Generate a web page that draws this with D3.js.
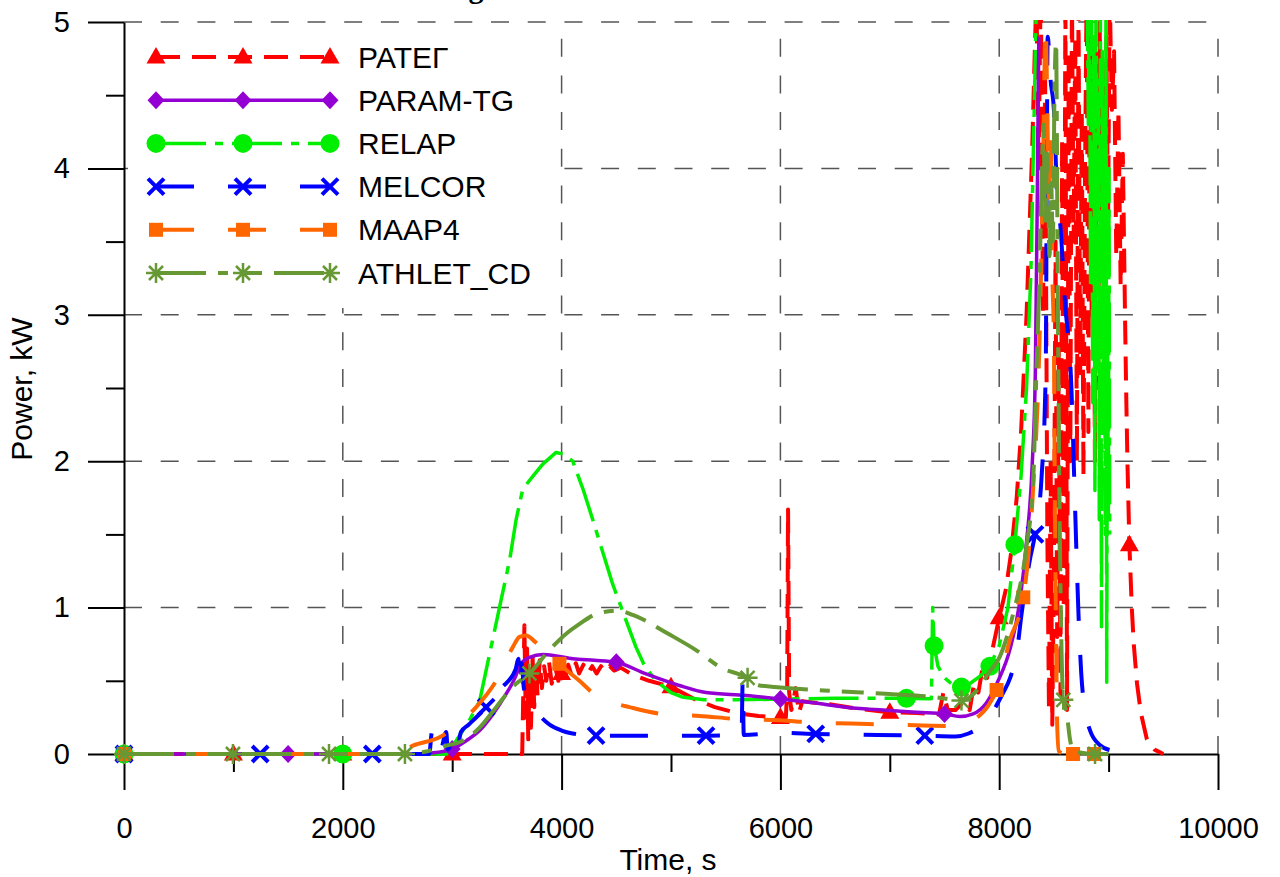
<!DOCTYPE html>
<html>
<head>
  <meta charset="utf-8">
  <title>Power, kW</title>
  <script src="https://cdnjs.cloudflare.com/ajax/libs/d3/7.8.5/d3.min.js"></script>
<style>
body {
  margin: 0;
  background: #fff;
}
svg {
  display: block;
  font-family: "Liberation Sans", Arial, sans-serif;
}
.legend text {
  font-size: 30px;
}
</style>
</head>
<body>

<svg width="1280" height="877"></svg>

<script>

// tick values
var xTicks = [0, 2000, 4000, 6000, 8000, 10000];
var xMinor = [1000, 3000, 5000, 7000, 9000];
var yTicks = [0, 1, 2, 3, 4, 5];
var yMinor = [0.5, 1.5, 2.5, 3.5, 4.5];
var xGrid = [2000, 4000, 6000, 8000, 10000];
var yGrid = [1, 2, 3, 4, 5];

var names = ["РАТЕГ", "PARAM-TG", "RELAP", "MELCOR", "MAAP4", "ATHLET_CD"];

// [time s, power kW]
var rateg = [[0,0],[3640,0],[3660,0.88],[3672,0.25],[3684,0.72],[3695,0.1],[3708,0.58],[3720,0.18],[3735,0.66],[3750,0.32],
  [3765,0.62],[3780,0.4],[3800,0.64],[3820,0.45],[3840,0.6],[3860,0.5],[3885,0.63],[3910,0.48],[3940,0.6],[3970,0.5],
  [4000,0.57],[4030,0.52],[4060,0.61],[4090,0.54],[4130,0.62],[4160,0.55],[4200,0.61],[4240,0.55],[4280,0.6],[4320,0.55],
  [4360,0.6],[4400,0.56],[4440,0.6],[4480,0.57],[4540,0.59],[4650,0.54],[4800,0.5],[5000,0.46],[5200,0.38],[5400,0.32],
  [5600,0.28],[5800,0.26],[6000,0.25],[6050,0.25],[6062,0.45],[6070,1.67],[6080,0.42],[6100,0.3],[6140,0.45],[6170,0.28],
  [6200,0.36],[6450,0.34],[6700,0.31],[7000,0.285],[7250,0.28],[7450,0.27],[7490,0.42],[7530,0.3],[7600,0.3],[7680,0.36],
  [7730,0.3],[7770,0.48],[7810,0.42],[7850,0.6],[7890,0.52],[7940,0.72],[8000,0.93],[8060,1.12],[8110,1.38],[8160,1.75],
  [8200,2.2],[8250,3.0],[8300,4.1],[8340,5.2],[8360,4.0],[8380,5.3],[8400,3.0],[8420,4.6],[8440,1.5],[8455,0.3],
  [8470,2.0],[8485,0.2],[8500,1.2],[8515,3.5],[8530,0.8],[8545,2.8],[8560,0.4],[8575,4.2],[8590,1.0],[8605,5.3],
  [8620,0.3],[8635,4.8],[8650,2.0],[8665,5.2],[8680,3.5],[8695,4.9],[8710,2.0],[8725,5.1],[8740,2.6],[8755,4.4],
  [8770,1.9],[8785,4.0],[8800,5.3],[8815,2.2],[8830,5.2],[8845,3.0],[8860,4.6],[8875,2.0],[8890,4.8],[8905,2.5],
  [8920,5.0],[8935,3.2],[8950,4.6],[8965,2.8],[8980,4.9],[8995,3.6],[9010,5.2],[9030,4.4],[9050,4.8],[9070,3.4],
  [9090,4.4],[9110,3.2],[9130,4.1],[9150,3.0],[9160,2.5],[9172,2.0],[9190,1.43],[9212,1.0],[9230,0.75],[9260,0.48],
  [9295,0.28],[9350,0.1],[9420,0.03],[9500,0]];
var ratezMarks = [[0,0],[1000,0],[2000,0],[3000,0],[4000,0.55],[5000,0.46],[6000,0.25],[7000,0.285],[8000,0.93],[9190,1.43]];

var paramtg = [[0,0],[2700,0],[2850,0.01],[3000,0.034],[3128,0.09],[3250,0.16],[3371,0.27],[3493,0.41],[3580,0.53],
  [3615,0.6],[3660,0.64],[3706,0.66],[3829,0.68],[3950,0.67],[4103,0.65],[4300,0.64],[4498,0.627],[4772,0.547],[5076,0.468],
  [5320,0.42],[5685,0.4],[6000,0.376],[6300,0.35],[6600,0.32],[7000,0.297],[7250,0.285],[7503,0.274],[7640,0.256],
  [7762,0.274],[7884,0.35],[7990,0.5],[8100,0.72],[8190,1.05],[8250,1.45],[8300,1.95],[8330,2.6],[8348,3.8],[8362,4.9]];
var paramMarks = [[0,0],[1500,0],[3000,0.034],[4500,0.627],[6000,0.376],[7500,0.274]];

var relap = [[0,0],[2950,0],[3036,0.09],[3150,0.22],[3250,0.36],[3341,0.68],[3432,1.0],[3524,1.32],[3584,1.6],[3645,1.81],
  [3740,1.9],[3828,1.98],[3950,2.06],[4011,2.05],[4102,2.0],[4200,1.8],[4285,1.6],[4380,1.37],[4467,1.16],[4580,0.93],
  [4680,0.73],[4760,0.6],[4863,0.5],[5000,0.42],[5100,0.39],[5300,0.37],[5600,0.37],[6000,0.375],[6500,0.38],[7000,0.38],
  [7380,0.377],[7392,1.0],[7405,0.74],[7440,0.6],[7500,0.52],[7580,0.47],[7655,0.457],[7730,0.48],[7823,0.53],[7915,0.6],
  [8000,0.74],[8080,1.0],[8143,1.43],[8200,1.9],[8250,2.5],[8290,3.3],[8320,4.4],[8345,5.3],[8600,5.8],[8800,5.6],
  [8815,4.3],[8825,5.4],[8835,3.2],[8845,5.2],[8855,2.4],[8865,4.9],[8875,1.8],[8885,5.3],[8895,2.6],[8905,4.6],
  [8915,1.6],[8925,5.1],[8935,0.87],[8942,4.8],[8952,2.2],[8960,4.4],[8970,1.5],[8976,5.2],[8983,0.49],[8990,3.0],
  [8998,1.6],[9004,4.0],[9010,1.5]];
var relapMarks = [[0,0],[2000,0],[7152,0.38],[7405,0.74],[7655,0.457],[7915,0.6],[8143,1.43]];

var melcor = [[0,0],[2790,0],[2815,0.15],[2830,0.01],[2900,0.04],[2945,0.15],[2960,0.03],[3000,0.1],[3030,0.16],[3050,0.06],
  [3080,0.15],[3150,0.2],[3310,0.32],[3450,0.45],[3580,0.58],[3605,0.65],[3620,0.46],[3635,0.62],[3655,0.45],[3700,0.36],
  [3790,0.27],[3890,0.2],[4000,0.16],[4100,0.14],[4315,0.125],[5320,0.125],[5645,0.13],[5655,0.5],[5665,0.13],[6000,0.145],
  [6323,0.137],[7320,0.125],[7600,0.12],[7720,0.14],[7850,0.2],[7950,0.3],[8030,0.41],[8100,0.52],[8160,0.69],[8205,0.96],
  [8281,1.33],[8327,1.5],[8388,1.9],[8425,2.6],[8435,4.0],[8443,4.9],[8470,4.6],[8500,4.4],[8530,3.8],[8560,3.6],
  [8600,3.1],[8660,2.5],[8685,1.9],[8705,1.4],[8725,0.95],[8750,0.55],[8790,0.28],[8831,0.16],[8922,0.06],[9008,0.027]];
var melcorMarks = [[0,0],[1245,0],[2270,0],[3310,0.32],[4315,0.125],[5320,0.125],[6323,0.137],[7320,0.125],[8327,1.5]];

var maap4 = [[0,0],[2500,0],[2641,0.057],[2884,0.114],[3050,0.2],[3219,0.32],[3402,0.5],[3554,0.73],[3615,0.8],[3676,0.81],
  [3767,0.76],[3858,0.71],[3980,0.616],[4163,0.5],[4315,0.4],[4470,0.35],[4620,0.32],[4954,0.27],[5259,0.26],[5594,0.24],
  [5990,0.23],[6300,0.215],[6800,0.205],[7300,0.195],[7610,0.19],[7800,0.25],[7900,0.33],[7976,0.437],[8098,0.78],
  [8220,1.07],[8305,1.75],[8373,2.96],[8400,4.0],[8425,4.98],[8440,4.4],[8455,3.8],[8470,4.2],[8485,3.3],[8500,2.8],
  [8510,1.6],[8520,0.8],[8530,0.2],[8545,0.02],[8600,0],[8880,0]];
var maap4Marks = [[0,0],[3980,0.616],[7976,0.437],[8220,1.07],[8675,0],[8866,0]];

var athlet = [[0,0],[2568,0],[2750,0.015],[2945,0.057],[3067,0.08],[3250,0.18],[3402,0.32],[3554,0.46],[3706,0.55],
  [3889,0.71],[4056,0.83],[4148,0.88],[4330,0.96],[4513,0.98],[4650,0.95],[4741,0.92],[4954,0.83],[5228,0.71],[5457,0.59],
  [5700,0.52],[5800,0.47],[6000,0.455],[6500,0.43],[7000,0.41],[7400,0.39],[7655,0.365],[7750,0.4],[7823,0.46],[7900,0.55],
  [8006,0.665],[8128,0.96],[8250,1.42],[8311,1.87],[8340,2.6],[8370,3.3],[8390,4.0],[8405,4.3],[8420,3.6],[8440,4.1],
  [8460,3.4],[8475,3.9],[8490,3.5],[8505,4.5],[8520,4.86],[8535,3.2],[8550,1.8],[8565,0.9],[8586,0.37],[8617,0.28],
  [8647,0.1],[8678,0.02],[8876,0],[9000,0]];
var athletMarks = [[0,0],[996,0],[1874,0],[2568,0],[3706,0.55],[5700,0.52],[7655,0.365],[8586,0.37],[8876,0]];


var svg = d3.select("svg");

var x = d3.scaleLinear().domain([0, 10000]).range([124, 1218]);
var y = d3.scaleLinear().domain([0, 5]).range([754, 22]);

var series = [
  {name: names[0], data: rateg, marks: ratezMarks, color: "#ff0000", dash: "24,12", width: 4, shape: "tri", smooth: false},
  {name: names[2], data: relap, marks: relapMarks, color: "#00ee00", dash: "50,9,8,9", width: 3.5, shape: "circle", smooth: false},
  {name: names[1], data: paramtg, marks: paramMarks, color: "#9400d3", dash: null, width: 3.5, shape: "diamond", smooth: true},
  {name: names[3], data: melcor, marks: melcorMarks, color: "#0000ff", dash: "38,34", width: 4, shape: "x", smooth: true},
  {name: names[4], data: maap4, marks: maap4Marks, color: "#ff6600", dash: "38,34", width: 4, shape: "square", smooth: true},
  {name: names[5], data: athlet, marks: athletMarks, color: "#669933", dash: "50,12,10,12,22,12", width: 4, shape: "star", smooth: true}
];

var shapes = {
  tri: "M0,-10L9.5,6.5L-9.5,6.5Z",
  diamond: "M0,-9L8.5,0L0,9L-8.5,0Z",
  square: "M-7,-7H7V7H-7Z",
  x: "M-8,-8L8,8M-8,8L8,-8",
  star: "M0,-10V10M-10,0H10M-7,-7L7,7M-7,7L7,-7"
};

function marker(g, s, cx, cy) {
  if (s.shape == "circle") {
    g.append("circle").attr("cx", cx).attr("cy", cy).attr("r", 9.5).attr("fill", s.color);
  } else if (s.shape == "x" || s.shape == "star") {
    g.append("path")
      .attr("transform", "translate(" + cx + "," + cy + ")")
      .attr("d", shapes[s.shape])
      .attr("fill", "none")
      .attr("stroke", s.color)
      .attr("stroke-width", s.shape == "x" ? 4 : 2.5);
  } else {
    g.append("path")
      .attr("transform", "translate(" + cx + "," + cy + ")")
      .attr("d", shapes[s.shape])
      .attr("fill", s.color);
  }
}

svg.append("defs").append("clipPath").attr("id", "plot")
  .append("rect").attr("x", 100).attr("y", 20).attr("width", 1140).attr("height", 750);

// grid
var grid = svg.append("g")
  .attr("stroke", "#555")
  .attr("stroke-width", 1.5)
  .attr("stroke-dasharray", "18,18.7");

grid.selectAll(".vg").data(xGrid).enter().append("line")
  .attr("x1", function(d) { return x(d); })
  .attr("x2", function(d) { return x(d); })
  .attr("y1", y(0))
  .attr("y2", y(5));

grid.selectAll(".hg").data(yGrid).enter().append("line")
  .attr("x1", x(0))
  .attr("x2", x(10000))
  .attr("y1", function(d) { return y(d); })
  .attr("y2", function(d) { return y(d); });

// legend background hides the grid
svg.append("rect")
  .attr("x", 128).attr("y", 32).attr("width", 430).attr("height", 276)
  .attr("fill", "#fff");

// axes
var xAxis = svg.append("g").attr("transform", "translate(0," + y(0) + ")")
  .call(d3.axisBottom(x).tickValues(xTicks).tickSizeInner(36).tickSizeOuter(0).tickPadding(27).tickFormat(d3.format("d")));
var xMin = svg.append("g").attr("transform", "translate(0," + y(0) + ")")
  .call(d3.axisBottom(x).tickValues(xMinor).tickSizeInner(18).tickSizeOuter(0).tickFormat(""));
var yAxis = svg.append("g").attr("transform", "translate(" + x(0) + ",0)")
  .call(d3.axisLeft(y).tickValues(yTicks).tickSizeInner(36).tickSizeOuter(0).tickPadding(18).tickFormat(d3.format("d")));
var yMin = svg.append("g").attr("transform", "translate(" + x(0) + ",0)")
  .call(d3.axisLeft(y).tickValues(yMinor).tickSizeInner(18).tickSizeOuter(0).tickFormat(""));

xMin.select(".domain").remove();
yMin.select(".domain").remove();

[xAxis, xMin, yAxis, yMin].forEach(function(a) {
  a.attr("font-size", 29).attr("font-family", "Liberation Sans, Arial, sans-serif");
  a.selectAll("line, path").attr("stroke", "#000").attr("stroke-width", 2);
  a.selectAll("text").attr("fill", "#000");
});

svg.append("text")
  .attr("x", 668).attr("y", 870)
  .attr("text-anchor", "middle")
  .attr("font-size", 30)
  .text("Time, s");

svg.append("text")
  .attr("transform", "translate(32,389) rotate(-90)")
  .attr("text-anchor", "middle")
  .attr("font-size", 30)
  .text("Power, kW");

// title is cut off at the top edge, only the tail of the g shows
svg.append("text")
  .attr("x", 476).attr("y", -2)
  .attr("text-anchor", "middle")
  .attr("font-family", "Liberation Serif, serif")
  .attr("font-weight", "bold")
  .attr("font-size", 30)
  .text("g");

// curves
var plot = svg.append("g").attr("clip-path", "url(#plot)");

series.forEach(function(s) {
  var line = d3.line()
    .x(function(d) { return x(d[0]); })
    .y(function(d) { return y(d[1]); })
    .curve(s.smooth ? d3.curveMonotoneX : d3.curveLinear);

  plot.append("path")
    .datum(s.data)
    .attr("d", line)
    .attr("fill", "none")
    .attr("stroke", s.color)
    .attr("stroke-width", s.width)
    .attr("stroke-dasharray", s.dash)
    .attr("stroke-linejoin", "round");

  var mg = plot.append("g");
  s.marks.forEach(function(m) { marker(mg, s, x(m[0]), y(m[1])); });
});

// legend
var legend = svg.append("g").attr("class", "legend");

names.forEach(function(nm, i) {
  var s = series.filter(function(d) { return d.name == nm; })[0];
  var ly = 57 + i * 43.2;
  var row = legend.append("g");
  row.append("line")
    .attr("x1", 156).attr("x2", 330)
    .attr("y1", ly).attr("y2", ly)
    .attr("stroke", s.color)
    .attr("stroke-width", s.width)
    .attr("stroke-dasharray", s.dash);
  [156, 243, 330].forEach(function(mx) { marker(row, s, mx, ly); });
  row.append("text")
    .attr("x", 358).attr("y", ly + 10.5)
    .text(s.name);
});

</script>
</body>
</html>
